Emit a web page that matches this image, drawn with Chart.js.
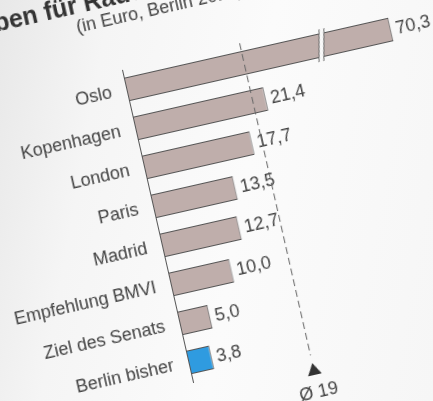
<!DOCTYPE html>
<html lang="de">
<head>
<meta charset="utf-8">
<title>Ausgaben für Radverkehr</title>
<script src="https://cdn.jsdelivr.net/npm/chart.js@4.4.1/dist/chart.umd.min.js"></script>
<style>
  html, body { margin: 0; padding: 0; }
  body {
    width: 433px; height: 401px; overflow: hidden; position: relative;
    background: linear-gradient(100deg, #e8e8e8 0%, #f5f5f5 22%, #fbfbfb 55%, #f6f6f6 100%);
  }
  /* the printed chart is photographed at a tilt */
  #wrap {
    position: absolute; left: -98px; top: -40px; width: 580px; height: 490px;
    transform-origin: 220px 110px; transform: rotate(-12.8deg);
  }
</style>
</head>
<body>
<div id="wrap"><canvas id="radChart" width="580" height="490"></canvas></div>
<script>
// Ausgaben pro Einwohner und Jahr
const cities = ['Oslo', 'Kopenhagen', 'London', 'Paris', 'Madrid', 'Empfehlung BMVI', 'Ziel des Senats', 'Berlin bisher'];
const spending = [70.3, 21.4, 17.7, 13.5, 12.7, 10.0, 5.0, 3.8];
const barColors = ['#bfaeab', '#bfaeab', '#bfaeab', '#bfaeab', '#bfaeab', '#bfaeab', '#bfaeab', '#2f9be0'];
const axisMax = 50;
const cutAt = 43.4;    // Oslo bar is shortened (axis break)
const breakAt = 31.6;
const titleText = 'Ausgaben für Radverkehr';
const subtitleText = '(in Euro, Berlin 2017)';

const average = spending.reduce((a, b) => a + b, 0) / spending.length;

const FONT = '"Liberation Sans", Arial, Helvetica, sans-serif';
const TEXT = '#444';
const TILT = 12.8 * Math.PI / 180;

const fmt = v => v.toFixed(1).replace('.', ',');

const decorations = {
  id: 'decorations',
  afterDatasetsDraw(chart) {
    const { ctx, chartArea, scales: { x } } = chart;
    const bars = chart.getDatasetMeta(0).data;
    ctx.save();

    // break in the Oslo bar
    const b = bars[0];
    const bx = x.getPixelForValue(breakAt);
    const top = b.y - b.height / 2 - 4;
    const bottom = b.y + b.height / 2 + 4;
    const lean = (bottom - top) * Math.tan(TILT) / 2;
    const gap = 5;
    ctx.fillStyle = '#f9f9f9';
    ctx.beginPath();
    ctx.moveTo(bx + lean, top);
    ctx.lineTo(bx + lean + gap, top);
    ctx.lineTo(bx - lean + gap, bottom);
    ctx.lineTo(bx - lean, bottom);
    ctx.closePath();
    ctx.fill();
    ctx.strokeStyle = '#666';
    ctx.lineWidth = 1;
    ctx.beginPath();
    ctx.moveTo(bx + lean, top); ctx.lineTo(bx - lean, bottom);
    ctx.moveTo(bx + lean + gap, top); ctx.lineTo(bx - lean + gap, bottom);
    ctx.stroke();

    // value labels
    ctx.font = '18px ' + FONT;
    ctx.fillStyle = TEXT;
    ctx.textAlign = 'left';
    ctx.textBaseline = 'middle';
    bars.forEach((bar, i) => {
      ctx.fillText(fmt(spending[i]), bar.x + 5, bar.y + 1);
    });

    // average line
    const mx = x.getPixelForValue(average);
    ctx.strokeStyle = '#666';
    ctx.setLineDash([7, 4]);
    ctx.beginPath();
    ctx.moveTo(mx, chartArea.top);
    ctx.lineTo(mx, chartArea.bottom);
    ctx.stroke();
    ctx.setLineDash([]);

    ctx.fillStyle = '#333';
    ctx.beginPath();
    ctx.moveTo(mx, chartArea.bottom + 8);
    ctx.lineTo(mx + 7, chartArea.bottom + 20);
    ctx.lineTo(mx - 7, chartArea.bottom + 20);
    ctx.closePath();
    ctx.fill();

    ctx.fillStyle = TEXT;
    ctx.textAlign = 'center';
    ctx.fillText('Ø ' + Math.round(average), mx, chartArea.bottom + 38);

    // title
    ctx.textAlign = 'left';
    ctx.textBaseline = 'alphabetic';
    ctx.fillStyle = '#333';
    ctx.font = 'bold 25px ' + FONT;
    ctx.fillText(titleText, chartArea.left - 191, chartArea.top - 65);
    ctx.fillStyle = TEXT;
    ctx.font = '18px ' + FONT;
    ctx.fillText(subtitleText, chartArea.left - 35, chartArea.top - 46);

    ctx.restore();
  }
};

new Chart(document.getElementById('radChart'), {
  type: 'bar',
  data: {
    labels: cities,
    datasets: [{
      data: spending.map(v => Math.min(v, cutAt)),
      backgroundColor: barColors,
      borderColor: '#555',
      borderWidth: 1,
      borderSkipped: false,
      barPercentage: 0.6,
      categoryPercentage: 1
    }]
  },
  options: {
    indexAxis: 'y',
    responsive: false,
    animation: false,
    layout: {
      padding: { left: 20, top: 110, right: 47.5, bottom: 60 }
    },
    plugins: {
      legend: { display: false },
      tooltip: { enabled: false }
    },
    scales: {
      x: {
        display: false,
        min: 0,
        max: axisMax
      },
      y: {
        grid: { display: false, drawTicks: false },
        border: { display: true, color: '#555', width: 1 },
        ticks: {
          color: TEXT,
          padding: 15,
          font: { family: FONT, size: 18 }
        },
        afterFit(scale) { scale.width = 200; }
      }
    }
  },
  plugins: [decorations]
});
</script>
</body>
</html>
